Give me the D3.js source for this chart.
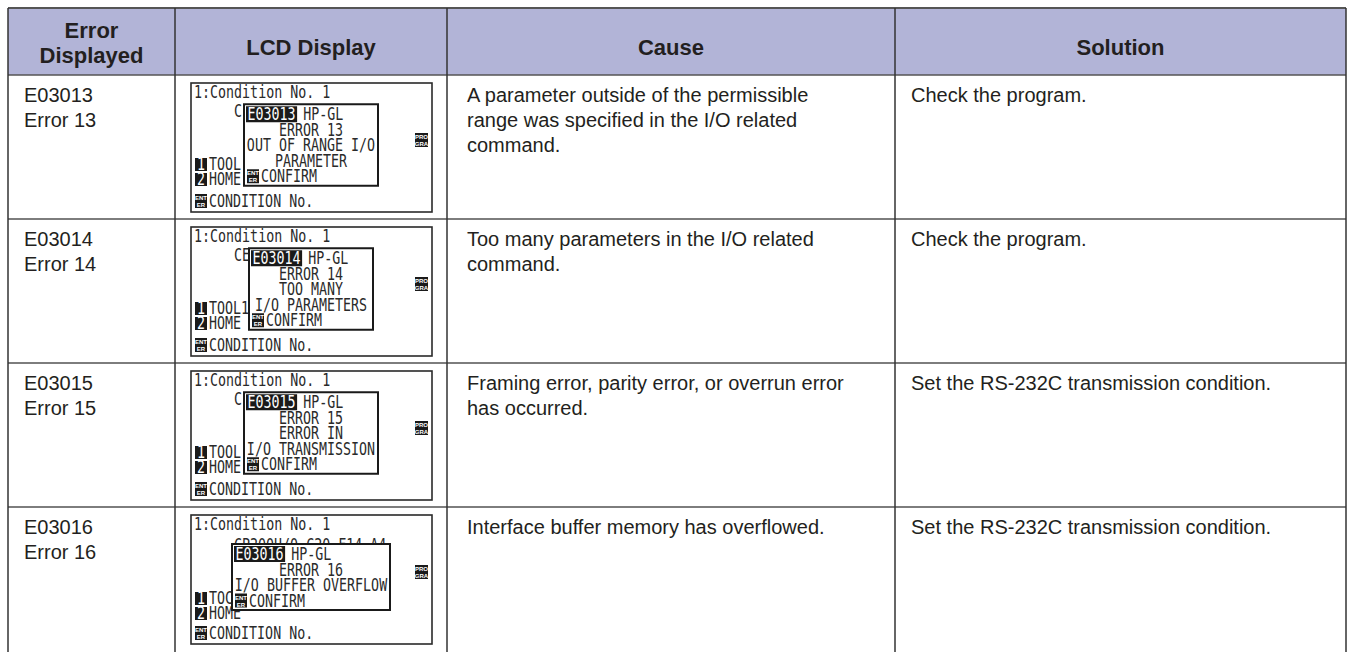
<!DOCTYPE html>
<html>
<head>
<meta charset="utf-8">
<script src="https://cdn.jsdelivr.net/npm/d3@7/dist/d3.min.js"></script>
<style>
  html, body { margin: 0; padding: 0; background: #fff; }
  svg { display: block; }
</style>
</head>
<body>
<svg id="chart" width="1351" height="652"></svg>
<script>
// ---------------- data ----------------
const headers = [["Error", "Displayed"], ["LCD Display"], ["Cause"], ["Solution"]];
const errorCodes = ["E03013", "E03014", "E03015", "E03016"];
const errorNames = ["Error 13", "Error 14", "Error 15", "Error 16"];
const causes = [
  ["A parameter outside of the permissible", "range was specified in the I/O related", "command."],
  ["Too many parameters in the I/O related", "command."],
  ["Framing error, parity error, or overrun error", "has occurred."],
  ["Interface buffer memory has overflowed."]
];
const solutions = [
  "Check the program.",
  "Check the program.",
  "Set the RS-232C transmission condition.",
  "Set the RS-232C transmission condition."
];
const lcdTitle = "1:Condition No. 1";
const lcdBehind = ["C", "CE", "C", "CP200U/0 C20 F14 A4"];
const lcdTool = ["TOOL", "TOOL1", "TOOL", "TOC"];
const lcdHome = "HOME";
const lcdFooter = "CONDITION No.";
const lcdHeadSuffix = "HP-GL";
const lcdMessages = [
  ["ERROR 13", "OUT OF RANGE I/O", "PARAMETER"],
  ["ERROR 14", "TOO MANY", "I/O PARAMETERS"],
  ["ERROR 15", "ERROR IN", "I/O TRANSMISSION"],
  ["ERROR 16", "I/O BUFFER OVERFLOW"]
];
const lcdConfirm = "CONFIRM";

// ---------------- layout ----------------
const svg = d3.select("#chart");
const colEdges = [8, 175, 447, 895, 1346];
const headTop = 8, headBottom = 75, rowH = 144;
const x = d3.scaleOrdinal().domain(d3.range(4)).range(colEdges.slice(0, 4));
const w = i => colEdges[i + 1] - colEdges[i];
const y = d3.scaleBand().domain(errorCodes).range([headBottom, headBottom + rowH * errorCodes.length]).padding(0);

const bodyFont = "'Liberation Sans', Arial, Helvetica, sans-serif";
const lcdFont = "'DejaVu Sans Mono', monospace";
const ink = "#231f20";
const bodySize = 20, lineH = 25, firstBase = 27;

// header background
svg.append("rect").attr("x", colEdges[0]).attr("y", headTop)
  .attr("width", colEdges[4] - colEdges[0]).attr("height", headBottom - headTop)
  .attr("fill", "#b2b4d7");

// header text
const hg = svg.append("g");
headers.forEach((lines, i) => {
  const cx = x(i) + w(i) / 2;
  const t = hg.append("text").attr("x", cx).attr("text-anchor", "middle")
    .attr("font-family", bodyFont).attr("font-weight", "bold").attr("font-size", 22)
    .attr("fill", ink);
  if (lines.length === 1) {
    t.attr("y", 55).text(lines[0]);
  } else {
    lines.forEach((l, k) => t.append("tspan").attr("x", cx).attr("y", 38 + k * 25).text(l));
  }
});

// body text
const padL = [16, 0, 20, 16];
const rows = svg.selectAll("g.row").data(errorCodes).join("g").attr("class", "row");
rows.append("text").attr("y", d => y(d) + firstBase)
  .attr("font-family", bodyFont).attr("font-size", bodySize).attr("fill", ink)
  .each(function (d, i) {
    d3.select(this).append("tspan").attr("x", x(0) + padL[0]).attr("dy", 0).text(d);
    d3.select(this).append("tspan").attr("x", x(0) + padL[0]).attr("dy", lineH).text(errorNames[i]);
  });
rows.append("text").attr("y", d => y(d) + firstBase)
  .attr("font-family", bodyFont).attr("font-size", bodySize).attr("fill", ink)
  .each(function (d, i) {
    causes[i].forEach((l, k) => d3.select(this).append("tspan").attr("x", x(2) + padL[2]).attr("dy", k ? lineH : 0).text(l));
  });
rows.append("text").attr("x", x(3) + padL[3]).attr("y", d => y(d) + firstBase)
  .attr("font-family", bodyFont).attr("font-size", bodySize).attr("fill", ink)
  .text((d, i) => solutions[i]);

// ---------------- LCD displays ----------------
const lcdW = 241, lcdH = 129, lcdSize = 18, sx = 0.74;
const charW = 0.602 * lcdSize * sx;
const lcdInk = "#2a2a2a";
function lcdText(g, tx, ty, str, anchor, fill) {
  return g.append("text")
    .attr("transform", `translate(${tx},${ty}) scale(${sx},1)`)
    .attr("text-anchor", anchor || "start")
    .attr("font-family", lcdFont).attr("font-size", lcdSize)
    .attr("fill", fill || lcdInk).text(str);
}
function invBox(g, bx, by, str) {
  g.append("rect").attr("x", bx).attr("y", by).attr("width", 12).attr("height", 13).attr("fill", "#1a1a1a");
  lcdText(g, bx + 6, by + 12, str, "middle", "#fff");
}
function tinyIcon(g, bx, by, top, bottom, wd) {
  g.append("rect").attr("x", bx).attr("y", by).attr("width", wd).attr("height", 14).attr("fill", "#1a1a1a");
  g.append("text").attr("x", bx + wd / 2).attr("y", by + 6).attr("text-anchor", "middle")
    .attr("font-family", bodyFont).attr("font-size", 6).attr("font-weight", "bold").attr("fill", "#fff").text(top);
  g.append("text").attr("x", bx + wd / 2).attr("y", by + 13).attr("text-anchor", "middle")
    .attr("font-family", bodyFont).attr("font-size", 6).attr("font-weight", "bold").attr("fill", "#fff").text(bottom);
}

errorCodes.forEach((code, i) => {
  const lx = x(1) + 16, ly = y(code) + 8;
  const g = svg.append("g");
  g.append("rect").attr("x", lx).attr("y", ly).attr("width", lcdW).attr("height", lcdH)
    .attr("fill", "#fff").attr("stroke", "#2a2a2a").attr("stroke-width", 1.6);
  lcdText(g, lx + 3, ly + 15, lcdTitle);
  lcdText(g, lx + 43, ly + (i === 3 ? 36 : 34), lcdBehind[i]);
  const toolY = ly + (i === 3 ? 89 : 87);
  invBox(g, lx + 4, toolY - 12, "1");
  lcdText(g, lx + 18, toolY, lcdTool[i]);
  invBox(g, lx + 4, toolY + 3, "2");
  lcdText(g, lx + 18, toolY + 15, lcdHome);
  tinyIcon(g, lx + 4, ly + lcdH - 18, "ENT", "ER", 12);
  lcdText(g, lx + 18, ly + lcdH - 5, lcdFooter);
  tinyIcon(g, lx + 224, ly + 50, "PRO", "GRA", 13);

  // popup
  const msgs = lcdMessages[i];
  const nLines = msgs.length + 2;
  const longest = d3.max(msgs.concat([code + " " + lcdHeadSuffix]), s => s.length);
  const pw = Math.max(124, Math.round(longest * charW + 6));
  const ph = nLines * 15.5 + 4;
  const px = lx + 120 - pw / 2;
  const py = ly + 62 - ph / 2;
  g.append("rect").attr("x", px).attr("y", py).attr("width", pw).attr("height", ph)
    .attr("fill", "#fff").attr("stroke", "#1a1a1a").attr("stroke-width", 2);
  const codeW = code.length * charW;
  g.append("rect").attr("x", px + 2).attr("y", py + 2).attr("width", codeW + 3).attr("height", 16).attr("fill", "#1a1a1a");
  lcdText(g, px + 3.5, py + 16, code, "start", "#fff");
  lcdText(g, px + 3 + codeW + charW, py + 16, lcdHeadSuffix);
  msgs.forEach((m, k) => lcdText(g, px + pw / 2, py + 16 + (k + 1) * 15.5, m, "middle"));
  const cy = py + 16 + (msgs.length + 1) * 15.5;
  tinyIcon(g, px + 3, cy - 13, "ENT", "ER", 12);
  lcdText(g, px + 17, cy, lcdConfirm);
});

// ---------------- grid lines ----------------
const grid = svg.append("g");
y.domain().slice(1).forEach(d => {
  grid.append("line").attr("x1", colEdges[0]).attr("x2", colEdges[4]).attr("y1", y(d)).attr("y2", y(d))
    .attr("stroke", "#7d7d7d").attr("stroke-width", 2);
});
grid.append("line").attr("x1", colEdges[0]).attr("x2", colEdges[4]).attr("y1", headBottom).attr("y2", headBottom)
  .attr("stroke", "#555").attr("stroke-width", 1.5);
grid.append("line").attr("x1", colEdges[0]).attr("x2", colEdges[4]).attr("y1", headTop).attr("y2", headTop)
  .attr("stroke", "#555").attr("stroke-width", 2);
colEdges.forEach(cx => {
  grid.append("line").attr("x1", cx).attr("x2", cx).attr("y1", headTop).attr("y2", 652)
    .attr("stroke", "#333").attr("stroke-width", 1.5);
});
</script>
</body>
</html>
